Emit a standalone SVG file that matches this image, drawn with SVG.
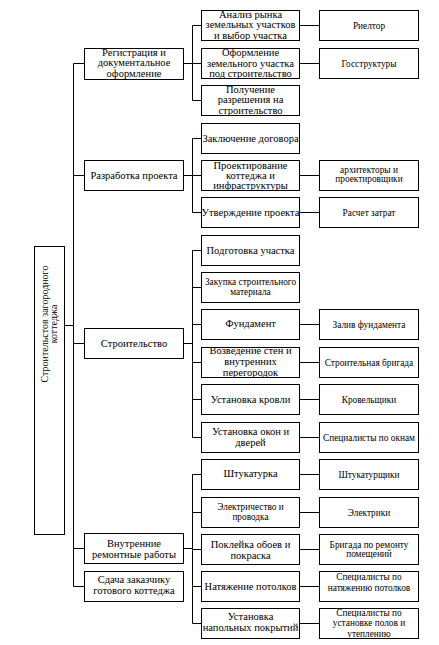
<svg xmlns="http://www.w3.org/2000/svg" width="439" height="645" viewBox="0 0 439 645">
<style>
rect{fill:#fff;stroke:#000;stroke-width:1}
text{font-size:10.5px;fill:#000;text-anchor:middle}
.s{font-size:9.3px}
.c path{fill:none;stroke:#000;stroke-width:1}
</style>
<rect x="0" y="0" width="439" height="645" style="stroke:none"/>
<g font-family="Liberation Serif, Times New Roman, serif">
<g class="c" id="connectors">
<path d="M64.5,325.5H73.5M73.5,63.5V586.5M73.5,63.5H84.5M73.5,175.5H84.5M73.5,343.5H84.5M73.5,548.5H84.5M73.5,586.5H84.5"/>
<path d="M183.5,63.5H192.5M192.5,25.5V100.5M192.5,25.5H201.5M192.5,63.5H201.5M192.5,100.5H201.5"/>
<path d="M183.5,175.5H192.5M192.5,138.5V212.5M192.5,138.5H201.5M192.5,175.5H201.5M192.5,212.5H201.5"/>
<path d="M183.5,343.5H192.5M192.5,250.5V437.5M192.5,250.5H201.5M192.5,287.5H201.5M192.5,324.5H201.5M192.5,362.5H201.5M192.5,399.5H201.5M192.5,437.5H201.5"/>
<path d="M183.5,548.5H192.5M192.5,474.5V623.5M192.5,474.5H201.5M192.5,512.5H201.5M192.5,549.5H201.5M192.5,586.5H201.5M192.5,623.5H201.5"/>
<path d="M299.5,25.5H319.5M299.5,63.5H319.5M299.5,175.5H319.5M299.5,212.5H319.5M299.5,324.5H319.5M299.5,362.5H319.5M299.5,399.5H319.5M299.5,437.5H319.5M299.5,474.5H319.5M299.5,512.5H319.5M299.5,549.5H319.5M299.5,586.5H319.5M299.5,623.5H319.5"/>
</g>
<g id="root"><rect x="34.5" y="246.5" width="30" height="288"/>
<text transform="translate(48,324) rotate(-90)" style="font-size:10px">Строительстов загородного</text>
<text transform="translate(57,324) rotate(-90)" style="font-size:10px">коттеджа</text></g>

<g id="n_reg"><rect x="84.5" y="48.5" width="99" height="31"/>
<text x="134" y="55.5">Регистрация и</text><text x="134" y="66">документальное</text><text x="134" y="76.5">оформление</text></g>
<g id="n_raz"><rect x="84.5" y="160.5" width="99" height="30"/>
<text x="134" y="179">Разработка проекта</text></g>
<g id="n_str"><rect x="84.5" y="328.5" width="99" height="30"/>
<text x="134" y="347">Строительство</text></g>
<g id="n_vnu"><rect x="84.5" y="533.5" width="99" height="30"/>
<text x="134" y="547">Внутренние</text><text x="134" y="558">ремонтные работы</text></g>
<g id="n_sda"><rect x="84.5" y="571.5" width="99" height="30"/>
<text x="134" y="582.5">Сдача заказчику</text><text x="134" y="594">готового коттеджа</text></g>

<g id="n_anal"><rect x="201.5" y="10.5" width="98" height="30"/>
<text x="250.5" y="18">Анализ рынка</text><text x="250.5" y="28">земельных участков</text><text x="250.5" y="38.5">и выбор участка</text></g>
<g id="n_ofor"><rect x="201.5" y="48.5" width="98" height="30"/>
<text x="250.5" y="56">Оформление</text><text x="250.5" y="66.5">земельного участка</text><text x="250.5" y="77">под строительство</text></g>
<g id="n_polu"><rect x="201.5" y="85.5" width="98" height="30"/>
<text x="250.5" y="92.5">Получение</text><text x="250.5" y="103">разрешения на</text><text x="250.5" y="113.5">строительство</text></g>
<g id="n_zakl"><rect x="201.5" y="123.5" width="98" height="30"/>
<text x="250.5" y="141.5">Заключение договора</text></g>
<g id="n_proe"><rect x="201.5" y="160.5" width="98" height="30"/>
<text x="250.5" y="168.5">Проектирование</text><text x="250.5" y="178.5">коттеджа и</text><text x="250.5" y="188.5">инфраструктуры</text></g>
<g id="n_utve"><rect x="201.5" y="197.5" width="98" height="30"/>
<text x="250.5" y="216">Утверждение проекта</text></g>
<g id="n_podg"><rect x="201.5" y="235.5" width="98" height="30"/>
<text x="250.5" y="253.5">Подготовка участка</text></g>
<g id="n_zaku"><rect x="201.5" y="272.5" width="98" height="30"/>
<text class="s" x="250.5" y="285">Закупка строительного</text><text class="s" x="250.5" y="294.5">материала</text></g>
<g id="n_fund"><rect x="201.5" y="309.5" width="98" height="30"/>
<text x="250.5" y="326.5">Фундамент</text></g>
<g id="n_vozv"><rect x="201.5" y="347.5" width="98" height="30"/>
<text x="250.5" y="353.5">Возведение стен и</text><text x="250.5" y="364.5">внутренних</text><text x="250.5" y="375.5">перегородок</text></g>
<g id="n_krov"><rect x="201.5" y="384.5" width="98" height="30"/>
<text x="250.5" y="403">Установка кровли</text></g>
<g id="n_okon"><rect x="201.5" y="422.5" width="98" height="30"/>
<text x="250.5" y="434.5">Установка окон и</text><text x="250.5" y="445.5">дверей</text></g>
<g id="n_shtu"><rect x="201.5" y="459.5" width="98" height="30"/>
<text x="250.5" y="476.5">Штукатурка</text></g>
<g id="n_elek"><rect x="201.5" y="497.5" width="98" height="30"/>
<text class="s" x="250.5" y="510">Электричество и</text><text class="s" x="250.5" y="519.5">проводка</text></g>
<g id="n_pokl"><rect x="201.5" y="534.5" width="98" height="30"/>
<text x="250.5" y="548">Поклейка обоев и</text><text x="250.5" y="559">покраска</text></g>
<g id="n_nat"><rect x="201.5" y="571.5" width="98" height="30"/>
<text x="250.5" y="590">Натяжение потолков</text></g>
<g id="n_pol"><rect x="201.5" y="608.5" width="98" height="30"/>
<text x="250.5" y="620">Установка</text><text x="250.5" y="631">напольных покрытий</text></g>

<g id="r_riel"><rect x="319.5" y="10.5" width="99" height="30"/>
<text class="s" x="369" y="28.5">Риелтор</text></g>
<g id="r_goss"><rect x="319.5" y="48.5" width="99" height="30"/>
<text class="s" x="369" y="66.5">Госструктуры</text></g>
<g id="r_arch"><rect x="319.5" y="160.5" width="99" height="30"/>
<text class="s" x="369" y="173">архитекторы и</text><text class="s" x="369" y="182">проектировщики</text></g>
<g id="r_rasc"><rect x="319.5" y="197.5" width="99" height="30"/>
<text class="s" x="369" y="215.5">Расчет затрат</text></g>
<g id="r_zali"><rect x="319.5" y="309.5" width="99" height="30"/>
<text class="s" x="369" y="328">Залив фундамента</text></g>
<g id="r_brig"><rect x="319.5" y="347.5" width="99" height="30"/>
<text class="s" x="369" y="365.5">Строительная бригада</text></g>
<g id="r_krov"><rect x="319.5" y="384.5" width="99" height="30"/>
<text class="s" x="369" y="402.5">Кровельщики</text></g>
<g id="r_okna"><rect x="319.5" y="422.5" width="99" height="30"/>
<text class="s" x="369" y="440.5">Специалисты по окнам</text></g>
<g id="r_shtu"><rect x="319.5" y="459.5" width="99" height="30"/>
<text class="s" x="369" y="477.5">Штукатурщики</text></g>
<g id="r_elek"><rect x="319.5" y="497.5" width="99" height="30"/>
<text class="s" x="369" y="515.5">Электрики</text></g>
<g id="r_remo"><rect x="319.5" y="534.5" width="99" height="30"/>
<text class="s" x="369" y="548">Бригада по ремонту</text><text class="s" x="369" y="556.5">помещений</text></g>
<g id="r_natj"><rect x="319.5" y="571.5" width="99" height="30"/>
<text class="s" x="369" y="580">Специалисты по</text><text class="s" x="369" y="590.5">натяжению потолков</text></g>
<g id="r_polo"><rect x="319.5" y="608.5" width="99" height="30"/>
<text class="s" x="369" y="615.5">Специалисты по</text><text class="s" x="369" y="626">установке полов и</text><text class="s" x="369" y="636.5">утеплению</text></g>
</g>
</svg>
